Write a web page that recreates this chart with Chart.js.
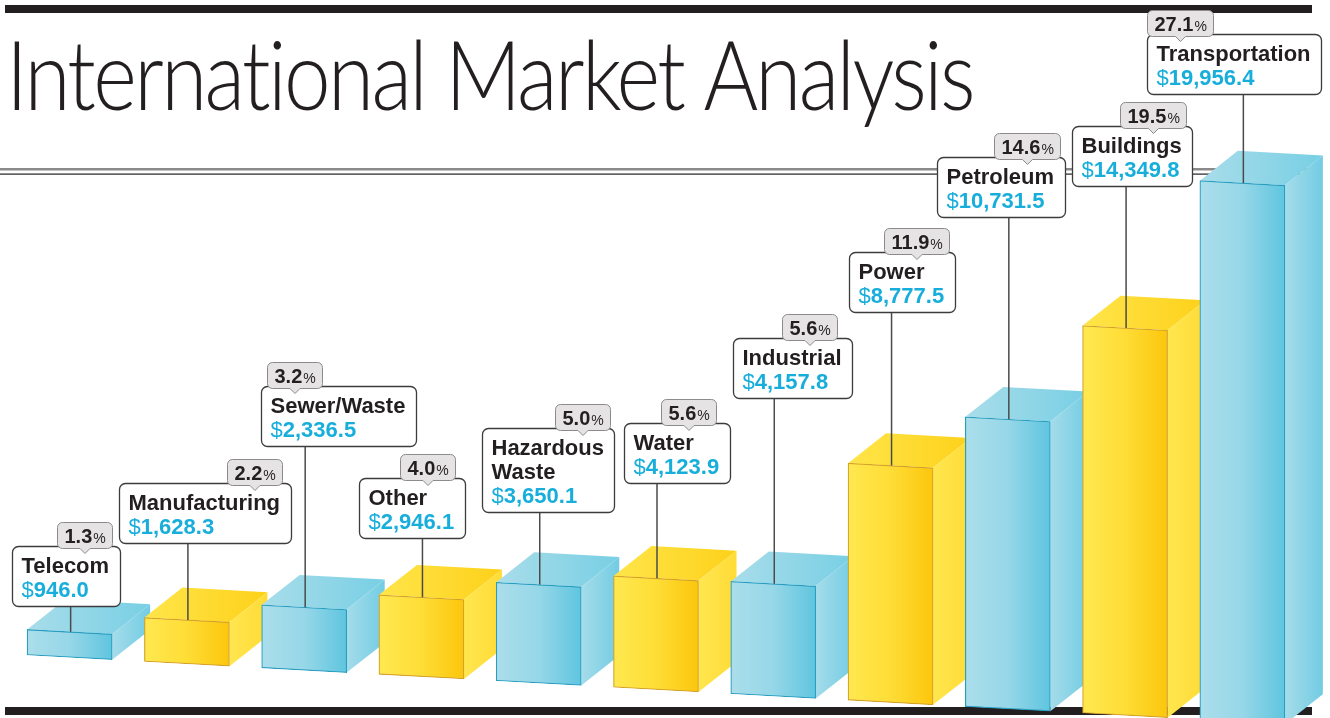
<!DOCTYPE html>
<html>
<head>
<meta charset="utf-8">
<title>International Market Analysis</title>
<script src="https://cdn.jsdelivr.net/npm/chart.js@4.4.1/dist/chart.umd.min.js"></script>
<style>
  html, body { margin: 0; padding: 0; background: #fff; }
  #wrap { position: relative; width: 1330px; height: 718px; overflow: hidden; }
  canvas { display: block; }
</style>
</head>
<body>
<div id="wrap"><canvas id="market" width="1330" height="718"></canvas></div>
<script>
// values
const categories = ['Telecom', 'Manufacturing', 'Sewer/Waste', 'Other', ['Hazardous', 'Waste'],
  'Water', 'Industrial', 'Power', 'Petroleum', 'Buildings', 'Transportation'];
const spending = [946.0, 1628.3, 2336.5, 2946.1, 3650.1, 4123.9, 4157.8, 8777.5, 10731.5, 14349.8, 19956.4];
const shares = [1.3, 2.2, 3.2, 4.0, 5.0, 5.6, 5.6, 11.9, 14.6, 19.5, 27.1];

// callout placement: left edge relative to the bar centre, top edge,
// and which side of the box the percentage tab hugs (+ inset)
const callouts = [
  { dx: -58, top: 546, tab: 'r', inset: 8 },
  { dx: -68, top: 483, tab: 'r', inset: 9 },
  { dx: -43, top: 386, tab: 'l', inset: 6 },
  { dx: -62, top: 478, tab: 'r', inset: 10 },
  { dx: -57, top: 428, tab: 'r', inset: 4 },
  { dx: -32, top: 423, tab: 'r', inset: 14 },
  { dx: -40, top: 338, tab: 'r', inset: 15 },
  { dx: -42, top: 252, tab: 'r', inset: 6 },
  { dx: -71, top: 157, tab: 'r', inset: 5 },
  { dx: -53, top: 126, tab: 'r', inset: 6 },
  { dx: -95, top: 34, tab: 'l', inset: 0 },
];

const SHEAR = 0.055;   // floor drops to the right
const DEPTH_X = 38;    // how far top/side faces recede
const DEPTH_Y = 32;
const INK = '#231f20';
const VALUE_BLUE = '#17aedb';
const SANS = '"Liberation Sans", Arial, Helvetica, sans-serif';

const palette = {
  cyan: {
    front: ['#abdeeb', '#96d7e8', '#5fc5df'],
    top: ['#a9ddea', '#78cfe4'],
    side: ['#a5dcea', '#72cce3'],
    edge: '#2a9ec1',
  },
  yellow: {
    front: ['#ffe850', '#fedd36', '#fcc60c'],
    top: ['#ffe54a', '#fdd11a'],
    side: ['#ffe64f', '#ffdb36'],
    edge: '#d4a12a',
  },
};

function toneOf(i) {
  return i % 2 === 0 ? palette.cyan : palette.yellow;
}

function hGradient(ctx, x0, x1, stops) {
  const g = ctx.createLinearGradient(x0, 0, x1, 0);
  stops.forEach((c, k) => g.addColorStop(k / (stops.length - 1), c));
  return g;
}

function frontFill(c) {
  const tone = toneOf(c.dataIndex);
  const chart = c.chart;
  if (c.type !== 'data' || !chart.chartArea || !chart.scales.x) return tone.front[0];
  const x = chart.scales.x.getPixelForValue(c.dataIndex);
  return hGradient(chart.ctx, x - 42.5, x + 42.5, tone.front);
}

function roundRect(ctx, x, y, w, h, r) {
  ctx.beginPath();
  ctx.moveTo(x + r, y);
  ctx.arcTo(x + w, y, x + w, y + h, r);
  ctx.arcTo(x + w, y + h, x, y + h, r);
  ctx.arcTo(x, y + h, x, y, r);
  ctx.arcTo(x, y, x + w, y, r);
  ctx.closePath();
}

function tabPath(ctx, x, y, w, h, r) {
  const mid = x + w / 2;
  ctx.beginPath();
  ctx.moveTo(x + r, y);
  ctx.arcTo(x + w, y, x + w, y + h, r);
  ctx.arcTo(x + w, y + h, x, y + h, r);
  ctx.lineTo(mid + 5, y + h);
  ctx.lineTo(mid, y + h + 5);
  ctx.lineTo(mid - 5, y + h);
  ctx.arcTo(x, y + h, x, y, r);
  ctx.arcTo(x, y, x + w, y, r);
  ctx.closePath();
}

function formatMoney(v) {
  return v.toLocaleString('en-US', { minimumFractionDigits: 1, maximumFractionDigits: 1 });
}

function drawTitle(ctx) {
  const text = 'International Market Analysis';
  const target = 967;
  ctx.save();
  ctx.font = '300 96px Lato, "Open Sans", sans-serif';
  ctx.fillStyle = INK;
  ctx.textBaseline = 'alphabetic';
  const w = ctx.measureText(text).width;
  // the print uses tight tracking; squeeze partly with spacing, partly with scale
  if ('letterSpacing' in ctx) {
    const spacing = Math.max(-3, (target - w) / (text.length - 1));
    ctx.letterSpacing = spacing.toFixed(2) + 'px';
    const w2 = ctx.measureText(text).width;
    ctx.translate(6, 110);
    ctx.scale(target / w2, 1);
    ctx.fillText(text, 0, 0);
  } else {
    ctx.translate(6, 110);
    ctx.scale(target / w, 1);
    ctx.fillText(text, 0, 0);
  }
  ctx.restore();
}

function drawCallout(ctx, i, cx, barTop) {
  const lay = callouts[i];
  const lines = Array.isArray(categories[i]) ? categories[i] : [categories[i]];
  const nameFont = 'bold 22px ' + SANS;
  const dollarFont = '22px ' + SANS;
  const digitFont = 'bold 22px ' + SANS;
  const money = formatMoney(spending[i]);

  ctx.font = nameFont;
  let textW = Math.max(...lines.map(s => ctx.measureText(s).width));
  ctx.font = dollarFont;
  const dollarW = ctx.measureText('$').width;
  ctx.font = digitFont;
  textW = Math.max(textW, dollarW + ctx.measureText(money).width);

  const boxW = Math.round(textW + 20);
  const boxH = 36 + 24 * lines.length;
  const left = Math.round(cx + lay.dx) + 0.5;
  const top = lay.top + 0.5;

  // leader line down to the front edge of the bar
  ctx.strokeStyle = '#4a4a4a';
  ctx.lineWidth = 1.5;
  ctx.beginPath();
  ctx.moveTo(cx + 1, top + boxH);
  ctx.lineTo(cx + 1, barTop);
  ctx.stroke();

  // box
  roundRect(ctx, left, top, boxW, boxH, 6);
  ctx.fillStyle = '#fff';
  ctx.fill();
  ctx.strokeStyle = '#3c3c3c';
  ctx.lineWidth = 1.3;
  ctx.stroke();

  ctx.textBaseline = 'alphabetic';
  ctx.fillStyle = INK;
  ctx.font = nameFont;
  lines.forEach((s, k) => ctx.fillText(s, left + 9, top + 26 + 24 * k));
  const vy = top + 26 + 24 * lines.length;
  ctx.fillStyle = VALUE_BLUE;
  ctx.font = dollarFont;
  ctx.fillText('$', left + 9, vy);
  ctx.font = digitFont;
  ctx.fillText(money, left + 9 + dollarW, vy);

  // percentage tab
  const pctText = shares[i].toFixed(1);
  ctx.font = 'bold 20px ' + SANS;
  const pW = ctx.measureText(pctText).width;
  ctx.font = '14px ' + SANS;
  const sW = ctx.measureText('%').width;
  const tabW = Math.round(pW + sW + 15);
  const tabH = 26;
  const tabLeft = lay.tab === 'r' ? left + boxW - lay.inset - tabW : left + lay.inset;
  const tabTop = top - 24;
  tabPath(ctx, tabLeft, tabTop, tabW, tabH, 5);
  ctx.fillStyle = '#e5e3e3';
  ctx.fill();
  ctx.strokeStyle = '#8c8a8a';
  ctx.lineWidth = 1;
  ctx.stroke();
  ctx.fillStyle = INK;
  ctx.font = 'bold 20px ' + SANS;
  ctx.fillText(pctText, tabLeft + 7, tabTop + 20);
  ctx.font = '14px ' + SANS;
  ctx.fillText('%', tabLeft + 7 + pW + 1, tabTop + 20);
}

const boxesPlugin = {
  id: 'boxes3d',
  beforeDraw(chart) {
    const ctx = chart.ctx;
    ctx.save();
    ctx.fillStyle = INK;
    ctx.fillRect(5, 5, 1307, 8);
    ctx.fillRect(5, 707, 1307, 8);
    ctx.fillStyle = '#8a8a8a';
    ctx.fillRect(0, 168, 1320, 2.5);
    ctx.fillStyle = INK;
    ctx.fillRect(0, 173.5, 1320, 1.2);
    ctx.restore();
    drawTitle(ctx);
  },
  beforeDatasetsDraw(chart) {
    const ctx = chart.ctx;
    const bars = chart.getDatasetMeta(0).data;
    const x0 = bars[0].x - bars[0].width / 2;
    ctx.save();
    ctx.transform(1, SHEAR, 0, 1, 0, -SHEAR * x0);
    bars.forEach((bar, i) => {
      const tone = toneOf(i);
      const l = bar.x - bar.width / 2;
      const r = bar.x + bar.width / 2;
      const t = bar.y;
      const b = bar.base;
      ctx.beginPath();
      ctx.moveTo(l, t);
      ctx.lineTo(l + DEPTH_X, t - DEPTH_Y);
      ctx.lineTo(r + DEPTH_X, t - DEPTH_Y);
      ctx.lineTo(r, t);
      ctx.closePath();
      ctx.fillStyle = hGradient(ctx, l, r + DEPTH_X, tone.top);
      ctx.fill();
      ctx.beginPath();
      ctx.moveTo(r, t);
      ctx.lineTo(r + DEPTH_X, t - DEPTH_Y);
      ctx.lineTo(r + DEPTH_X, b - DEPTH_Y);
      ctx.lineTo(r, b);
      ctx.closePath();
      ctx.fillStyle = hGradient(ctx, r, r + DEPTH_X, tone.side);
      ctx.fill();
    });
  },
  afterDatasetsDraw(chart) {
    const ctx = chart.ctx;
    ctx.restore();
    const bars = chart.getDatasetMeta(0).data;
    const x0 = bars[0].x - bars[0].width / 2;
    ctx.save();
    bars.forEach((bar, i) => {
      const cx = bar.x;
      const topAtCx = bar.y + SHEAR * (cx + 1 - x0);
      drawCallout(ctx, i, cx, topAtCx);
    });
    ctx.restore();
  },
};

new Chart(document.getElementById('market'), {
  type: 'bar',
  data: {
    labels: categories,
    datasets: [{
      data: spending,
      backgroundColor: frontFill,
      borderColor: c => toneOf(c.dataIndex).edge,
      borderWidth: 1.2,
      borderSkipped: false,
      barThickness: 85,
      clip: false,
    }],
  },
  options: {
    responsive: false,
    animation: false,
    devicePixelRatio: 1,
    layout: { padding: { top: 7, bottom: 63, left: 11, right: 29 } },
    scales: {
      x: { display: false },
      y: { display: false, min: 0, max: 24000 },
    },
    plugins: {
      legend: { display: false },
      tooltip: { enabled: false },
      title: { display: false },
    },
  },
  plugins: [boxesPlugin],
});
</script>
</body>
</html>
